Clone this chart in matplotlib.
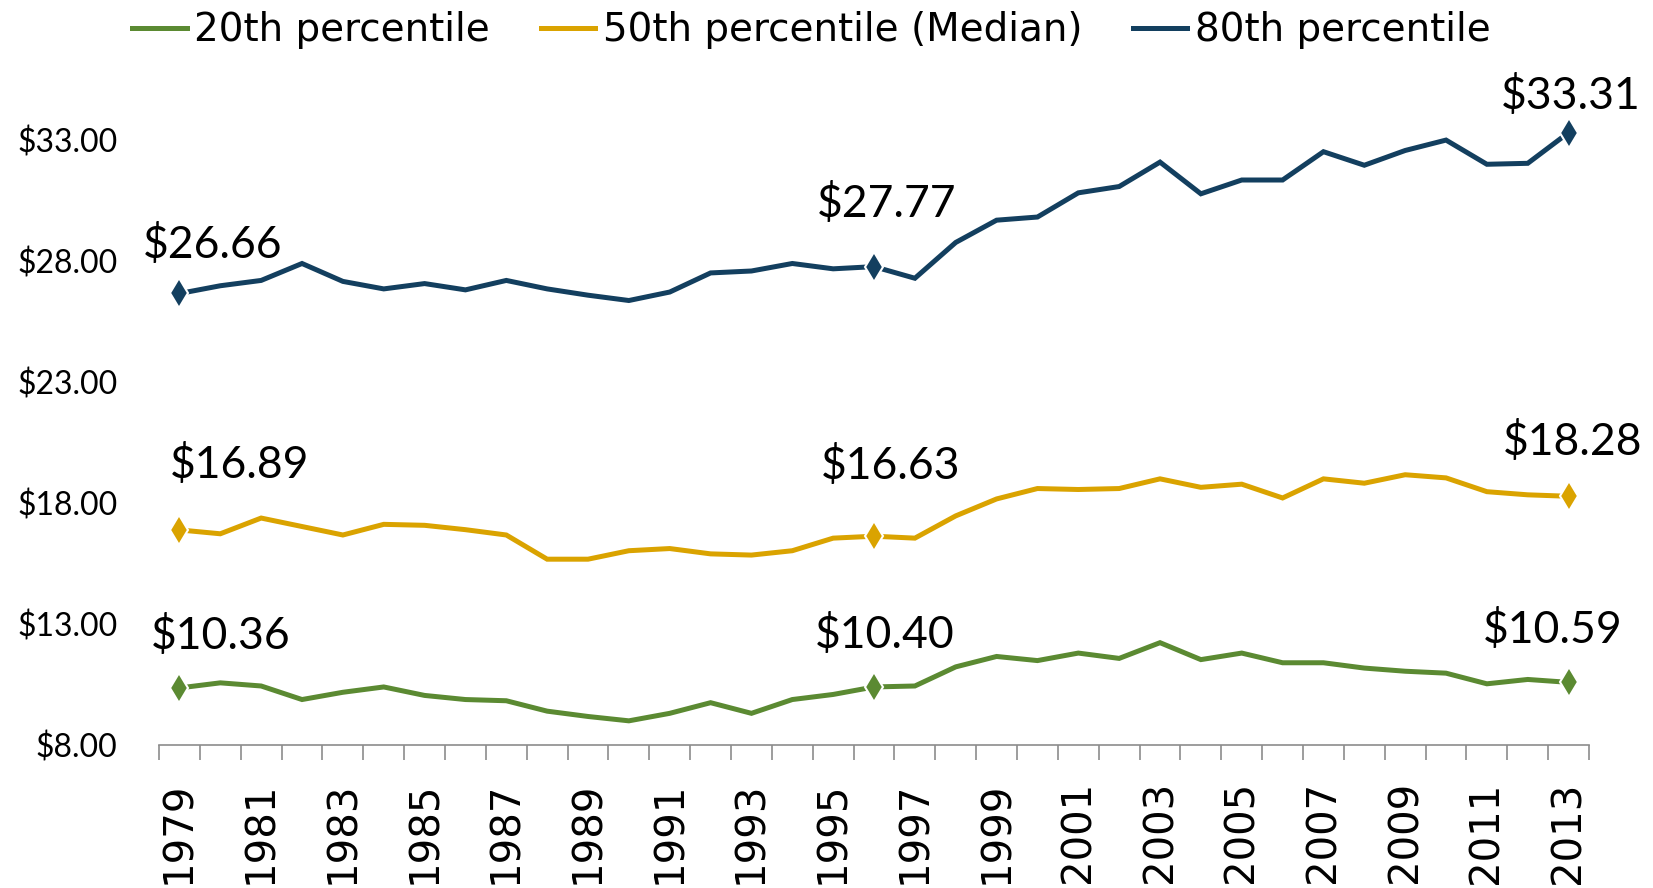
import matplotlib.pyplot as plt
import numpy as np

years = list(range(1979, 2014))

p20 = [10.36, 10.57, 10.44, 9.88, 10.18, 10.40, 10.05, 9.88, 9.83, 9.40,
       9.18, 9.00, 9.31, 9.75, 9.31, 9.88, 10.09, 10.40, 10.44, 11.23,
       11.66, 11.49, 11.80, 11.58, 12.23, 11.53, 11.80, 11.40, 11.40, 11.18,
       11.05, 10.97, 10.53, 10.71, 10.59]
p50 = [16.89, 16.73, 17.38, 17.03, 16.68, 17.12, 17.08, 16.90, 16.68, 15.68,
       15.68, 16.03, 16.12, 15.90, 15.85, 16.03, 16.55, 16.63, 16.55, 17.47,
       18.17, 18.60, 18.56, 18.60, 19.00, 18.65, 18.78, 18.21, 19.00, 18.82,
       19.17, 19.04, 18.47, 18.34, 18.28]
p80 = [26.66, 26.98, 27.20, 27.90, 27.16, 26.85, 27.07, 26.81, 27.20, 26.85,
       26.59, 26.37, 26.72, 27.51, 27.59, 27.90, 27.68, 27.77, 27.29, 28.77,
       29.69, 29.82, 30.82, 31.08, 32.09, 30.78, 31.35, 31.35, 32.52, 31.96,
       32.57, 33.00, 32.00, 32.04, 33.31]

series_names = ["20th percentile", "50th percentile (Median)", "80th percentile"]
colors = ["#5B8A32", "#DAA300", "#133F5F"]
y_ticks = [8, 13, 18, 23, 28, 33]
labeled_years = [1979, 1996, 2013]

# label offsets in pixels (dx, dy) for each series / labeled year
label_offsets = [
    [(41, 52), (11, 52), (-16, 52)],
    [(60, 65), (17, 70), (4, 54)],
    [(33, 48), (13, 63), (2, 37)],
]

fig = plt.figure(figsize=(16.53, 8.88), dpi=100)
ax = fig.add_axes([0.0962, 0.161, 0.8651, 0.763])

x = np.arange(len(years))
handles = []
for vals, name, c, offs in zip([p20, p50, p80], series_names, colors, label_offsets):
    h, = ax.plot(x, vals, color=c, lw=3.6, solid_joinstyle="miter", label=name)
    handles.append(h)
    idx = [years.index(yr) for yr in labeled_years]
    ax.plot(x[idx], np.array(vals)[idx], ls="none", marker="d", ms=15,
            color=c, mec="white", mew=1.5, zorder=4)
    for i, (dx, dy) in zip(idx, offs):
        ax.annotate(f"${vals[i]:.2f}", (x[i], vals[i]), textcoords="offset pixels",
                    xytext=(dx, dy), ha="center", va="center",
                    fontsize=32, family="Lato")

ax.set_xlim(-0.5, len(years) - 0.5)
ax.set_ylim(8, 36)
ax.set_yticks(y_ticks)
ax.set_yticklabels([f"${v:.2f}" for v in y_ticks], family="Lato", fontsize=23)
ax.tick_params(axis="y", length=0, pad=30)

ax.set_xticks(x[::2])
ax.set_xticklabels([str(y) for y in years[::2]], rotation=90, fontsize=29,
                   family="DejaVu Sans")
ax.set_xticks(np.arange(-0.5, len(years)), minor=True)
ax.tick_params(axis="x", which="major", length=0, pad=26)
ax.tick_params(axis="x", which="minor", length=11, width=1.2, color="#8C8C8C")

for s in ["top", "right", "left"]:
    ax.spines[s].set_visible(False)
ax.spines["bottom"].set_color("#8C8C8C")
ax.spines["bottom"].set_linewidth(1.2)

fig.legend(handles=handles, loc="center", bbox_to_anchor=(0.491, 0.966),
           ncol=3, frameon=False, fontsize=28, handlelength=1.4,
           handletextpad=0.2, columnspacing=1.3, borderpad=0)

fig.savefig("out.png", dpi=100)
